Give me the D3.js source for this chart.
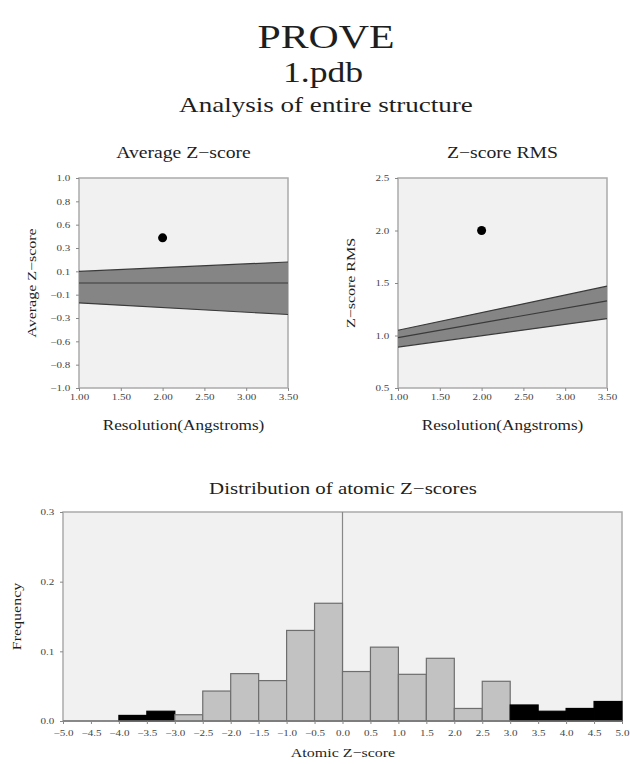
<!DOCTYPE html>
<html>
<head>
<meta charset="utf-8">
<script src="https://d3js.org/d3.v7.min.js"></script>
<style>
  body { margin: 0; background: #fff; }
  text { font-family: "Liberation Serif", "DejaVu Serif", serif; fill: #1e1e1e; }
  .tick text { fill: #444; }
</style>
</head>
<body>
<script>
// resolution (Angstroms) where the expected band is given
var resolution = [1.0, 3.5];

// Average Z-score panel
var avgUpper = [0.11, 0.20];
var avgMid = [0.0, 0.0];
var avgLower = [-0.19, -0.30];
var avgTickLabels = ["1.0", "0.8", "0.6", "0.3", "0.1", "−0.1", "−0.3", "−0.6", "−0.8", "−1.0"];

// Z-score RMS panel
var rmsUpper = [1.05, 1.47];
var rmsMid = [0.98, 1.33];
var rmsLower = [0.89, 1.16];
var rmsTicks = [0.5, 1.0, 1.5, 2.0, 2.5];

// this structure
var structRes = 2.0;
var structAvg = 0.43;
var structRms = 2.0;

var resTicks = [1.0, 1.5, 2.0, 2.5, 3.0, 3.5];

// histogram of atomic Z-scores, bins of 0.5
var binStart = [-5.0, -4.5, -4.0, -3.5, -3.0, -2.5, -2.0, -1.5, -1.0, -0.5,
                0.0, 0.5, 1.0, 1.5, 2.0, 2.5, 3.0, 3.5, 4.0, 4.5];
var frequency = [0, 0, 0.008, 0.014, 0.009, 0.043, 0.068, 0.058, 0.130, 0.169,
                 0.071, 0.106, 0.067, 0.090, 0.018, 0.057, 0.023, 0.014, 0.018, 0.028];
var zTicks = [-5.0, -4.5, -4.0, -3.5, -3.0, -2.5, -2.0, -1.5, -1.0, -0.5, 0.0,
              0.5, 1.0, 1.5, 2.0, 2.5, 3.0, 3.5, 4.0, 4.5, 5.0];
var freqTicks = [0.0, 0.1, 0.2, 0.3];

// the original text is drawn a bit wider than plain Times
var SX = 1.23;

var svg = d3.select("body").append("svg")
    .attr("width", 630).attr("height", 764);

function label(parent, x, y, str, size, rotate) {
  return parent.append("text")
    .attr("transform", "translate(" + x + "," + y + ")" + (rotate ? " rotate(-90)" : "") + " scale(" + SX + ",1)")
    .attr("text-anchor", "middle").style("font-size", size + "px").text(str);
}

// page titles
label(svg, 326, 48, "PROVE", 34);
label(svg, 323, 82, "1.pdb", 29);
label(svg, 326, 112, "Analysis of entire structure", 22);

function styleAxis(g) {
  g.select(".domain").remove();
  g.selectAll(".tick line").attr("stroke", "#888");
  g.selectAll(".tick text").style("font-size", "9px")
    .attr("transform", "scale(" + SX + ",1)");
}

function panel(opt) {
  var x = d3.scaleLinear().domain([1.0, 3.5]).range([opt.left, opt.right]);
  var y = d3.scaleLinear().domain(opt.ydomain).range([opt.bottom, opt.top]);
  var g = svg.append("g");

  g.append("rect").attr("x", opt.left).attr("y", opt.top)
    .attr("width", opt.right - opt.left).attr("height", opt.bottom - opt.top)
    .attr("fill", "#f1f1f1").attr("stroke", "#aaa").attr("stroke-width", 1.5);

  var band = resolution.map(function (r, i) {
    return { r: r, hi: opt.upper[i], mid: opt.mid[i], lo: opt.lower[i] };
  });
  g.append("path").datum(band)
    .attr("d", d3.area().x(function (d) { return x(d.r); })
      .y0(function (d) { return y(d.lo); }).y1(function (d) { return y(d.hi); }))
    .attr("fill", "#858585");
  ["hi", "mid", "lo"].forEach(function (k) {
    g.append("path").datum(band)
      .attr("d", d3.line().x(function (d) { return x(d.r); }).y(function (d) { return y(d[k]); }))
      .attr("fill", "none").attr("stroke", "#3a3a3a").attr("stroke-width", 1.2);
  });

  g.append("circle").attr("cx", x(structRes)).attr("cy", y(opt.point))
    .attr("r", 4.5).attr("fill", "#000");

  var ya = g.append("g").attr("transform", "translate(" + opt.left + ",0)")
    .call(d3.axisLeft(y).tickValues(opt.yticks).tickSize(3).tickPadding(4)
      .tickFormat(opt.yfmt));
  styleAxis(ya);
  var xa = g.append("g").attr("transform", "translate(0," + opt.bottom + ")")
    .call(d3.axisBottom(x).tickValues(resTicks).tickSize(3).tickPadding(3)
      .tickFormat(d3.format(".2f")));
  styleAxis(xa);

  var cx = (opt.left + opt.right) / 2;
  label(g, cx, 158, opt.title, 16);
  label(g, cx, 430, "Resolution(Angstroms)", 14);
  label(g, opt.left - 43, (opt.top + opt.bottom) / 2, opt.ylabel, 13, true);
}

panel({
  left: 79, right: 288, top: 178, bottom: 388,
  ydomain: [-1, 1],
  yticks: d3.range(10).map(function (i) { return 1 - i * 2 / 9; }),
  yfmt: function (d, i) { return avgTickLabels[i]; },
  upper: avgUpper, mid: avgMid, lower: avgLower,
  point: structAvg, title: "Average Z−score", ylabel: "Average Z−score"
});

panel({
  left: 398, right: 607, top: 178, bottom: 388,
  ydomain: [0.5, 2.5],
  yticks: rmsTicks,
  yfmt: d3.format(".1f"),
  upper: rmsUpper, mid: rmsMid, lower: rmsLower,
  point: structRms, title: "Z−score RMS", ylabel: "Z−score RMS"
});

// histogram
var hl = 63, hr = 622, ht = 512, hb = 721;
var hx = d3.scaleLinear().domain([-5, 5]).range([hl, hr]);
var hy = d3.scaleLinear().domain([0, 0.3]).range([hb, ht]);
var h = svg.append("g");
h.append("rect").attr("x", hl).attr("y", ht).attr("width", hr - hl).attr("height", hb - ht)
  .attr("fill", "#f1f1f1").attr("stroke", "#aaa").attr("stroke-width", 1.5);
h.append("line").attr("x1", hx(0)).attr("x2", hx(0)).attr("y1", ht).attr("y2", hb)
  .attr("stroke", "#888").attr("stroke-width", 1.2);

// bins beyond |Z| = 3 are drawn black
function outlier(d) { return d + 0.5 <= -3 || d >= 3; }
h.selectAll("rect.bar").data(binStart).enter().append("rect").attr("class", "bar")
  .attr("x", function (d) { return hx(d); })
  .attr("width", function (d) { return hx(d + 0.5) - hx(d); })
  .attr("y", function (d, i) { return hy(frequency[i]); })
  .attr("height", function (d, i) { return hb - hy(frequency[i]); })
  .attr("fill", function (d) { return outlier(d) ? "#000" : "#c2c2c2"; })
  .attr("stroke", function (d) { return outlier(d) ? "#000" : "#6e6e6e"; })
  .attr("stroke-width", 1.2);
h.append("line").attr("x1", hl).attr("x2", hr).attr("y1", hb).attr("y2", hb)
  .attr("stroke", "#777").attr("stroke-width", 1.5);

var hya = h.append("g").attr("transform", "translate(" + hl + ",0)")
  .call(d3.axisLeft(hy).tickValues(freqTicks).tickSize(3).tickPadding(4).tickFormat(d3.format(".1f")));
styleAxis(hya);
var hxa = h.append("g").attr("transform", "translate(0," + hb + ")")
  .call(d3.axisBottom(hx).tickValues(zTicks).tickSize(3).tickPadding(6).tickFormat(d3.format(".1f")));
styleAxis(hxa);

label(h, 343, 494, "Distribution of atomic Z−scores", 17);
label(h, 343, 757, "Atomic Z−score", 13);
label(h, 21, (ht + hb) / 2, "Frequency", 13, true);
</script>
</body>
</html>
